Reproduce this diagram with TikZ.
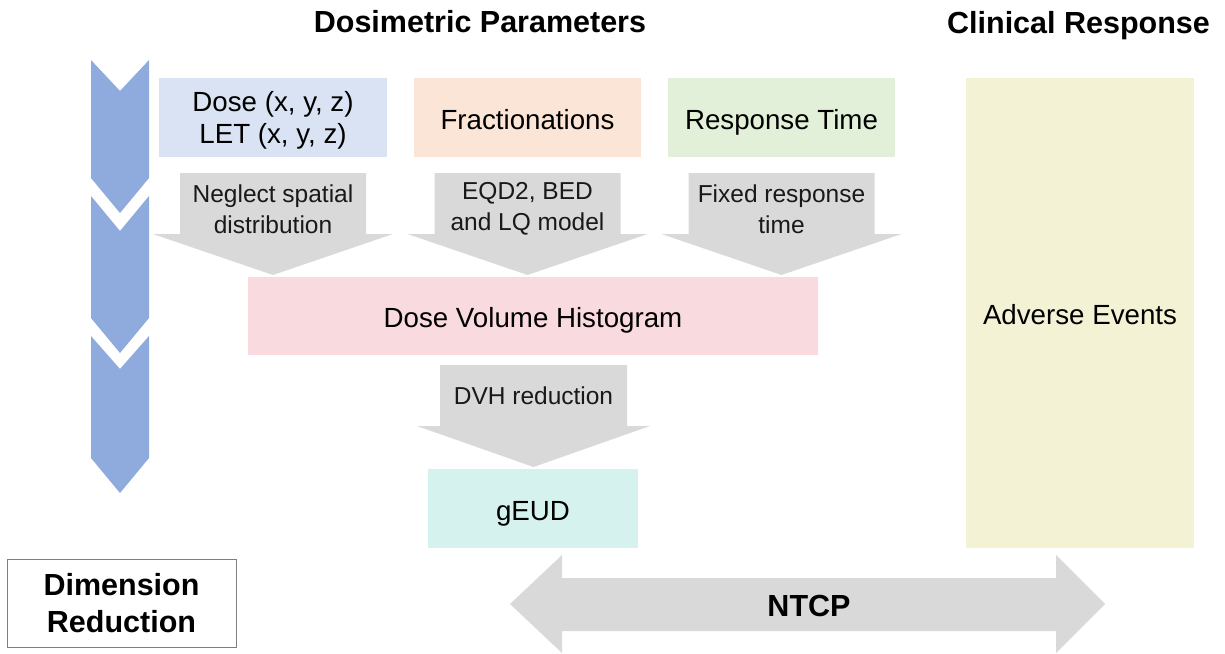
\documentclass[tikz,border=0pt]{standalone}
\usepackage{fontspec}
\setmainfont{Liberation Sans}
\definecolor{chev}{HTML}{8FAADC}
\definecolor{garrow}{HTML}{D9D9D9}
\definecolor{cdose}{HTML}{DAE3F3}
\definecolor{cfrac}{HTML}{FBE5D6}
\definecolor{cresp}{HTML}{E2F0D9}
\definecolor{cdvh}{HTML}{F9DADF}
\definecolor{cgeud}{HTML}{D5F2EF}
\definecolor{cadv}{HTML}{F3F2D4}
\definecolor{cborder}{HTML}{7F7F7F}
\newcommand{\boxfont}{\fontsize{27.7}{32}\selectfont}
\newcommand{\arrfont}{\fontsize{24.5}{30.5}\selectfont}
\newcommand{\hdfont}{\fontsize{30.5}{37}\selectfont\bfseries}
\tikzset{
  databox/.style={inner sep=0pt, align=center, font=\boxfont, text=black},
  oneline/.style={databox, text height=26pt, text depth=2.6pt},
  arrtext/.style={inner sep=0pt, align=center, font=\arrfont, text=black!90},
  header/.style={inner sep=0pt, anchor=base, font=\hdfont},
  blockarrow/.style={fill=garrow},
  chevron/.style={fill=chev}
}
\begin{document}
\begin{tikzpicture}[x=1pt,y=-1pt]
\useasboundingbox (0,0) rectangle (1225,653);

% headers
\node[header] (hdose) at (480,32) {Dosimetric Parameters};
\node[header] (hclin) at (1078.5,33) {Clinical Response};

% chevrons (dimension reduction direction)
\fill[chevron] (91,60) -- (120,91) -- (149,60) -- (149,178) -- (120,213) -- (91,178) -- cycle;
\fill[chevron] (91,196) -- (120,231) -- (149,196) -- (149,318) -- (120,353) -- (91,318) -- cycle;
\fill[chevron] (91,336) -- (120,369) -- (149,336) -- (149,458) -- (120,493) -- (91,458) -- cycle;

% top boxes
\node[fill=cdose, minimum width=228pt, minimum height=79pt, inner sep=0pt] (dose) at (273,117.5) {};
\node[databox] (dosetxt) at (273,120.5) {Dose (x, y, z)\\LET (x, y, z)};
\node[oneline, fill=cfrac, minimum width=227pt, minimum height=79pt] (frac) at (527.5,117.5) {Fractionations};
\node[oneline, fill=cresp, minimum width=227pt, minimum height=79pt] (resp) at (781.5,117.5) {Response Time};
\node[oneline, fill=cadv, minimum width=228pt, minimum height=470pt] (adv) at (1080,313) {Adverse Events};

% block arrows down
\fill[blockarrow] (180,173) -- (366,173) -- (366,234) -- (393,234) -- (273,275) -- (153,234) -- (180,234) -- cycle;
\fill[blockarrow] (434.5,173) -- (620.5,173) -- (620.5,234) -- (647.5,234) -- (527.5,275) -- (407.5,234) -- (434.5,234) -- cycle;
\fill[blockarrow] (688.5,173) -- (874.5,173) -- (874.5,234) -- (901.5,234) -- (781.5,275) -- (661.5,234) -- (688.5,234) -- cycle;
\node[arrtext] (t1) at (273,209) {Neglect spatial\\distribution};
\node[arrtext] (t2) at (527.5,209) {EQD2, BED\\and LQ model};
\node[arrtext] (t3) at (781.5,209) {Fixed response\\time};

% DVH
\node[oneline, fill=cdvh, minimum width=570pt, minimum height=78pt] (dvh) at (533,316) {Dose Volume Histogram};

\fill[blockarrow] (440,365) -- (627,365) -- (627,426) -- (650,426) -- (533.5,467) -- (417,426) -- (440,426) -- cycle;
\node[arrtext] (t4) at (533.5,396) {DVH reduction};

\node[oneline, fill=cgeud, minimum width=210pt, minimum height=79pt] (geud) at (533,508.5) {gEUD};

% NTCP double arrow
\fill[blockarrow] (510,604) -- (562,555) -- (562,578) -- (1056,578) -- (1056,555) -- (1105,604) -- (1056,653) -- (1056,631) -- (562,631) -- (562,653) -- cycle;
\node[inner sep=0pt, font=\hdfont] (ntcp) at (809,606) {NTCP};

% Dimension reduction label
\node[draw=cborder, line width=0.8pt, minimum width=229pt, minimum height=88pt, inner sep=0pt, align=center, font=\hdfont] (dimred) at (121.5,603) {Dimension\\Reduction};
\end{tikzpicture}
\end{document}
